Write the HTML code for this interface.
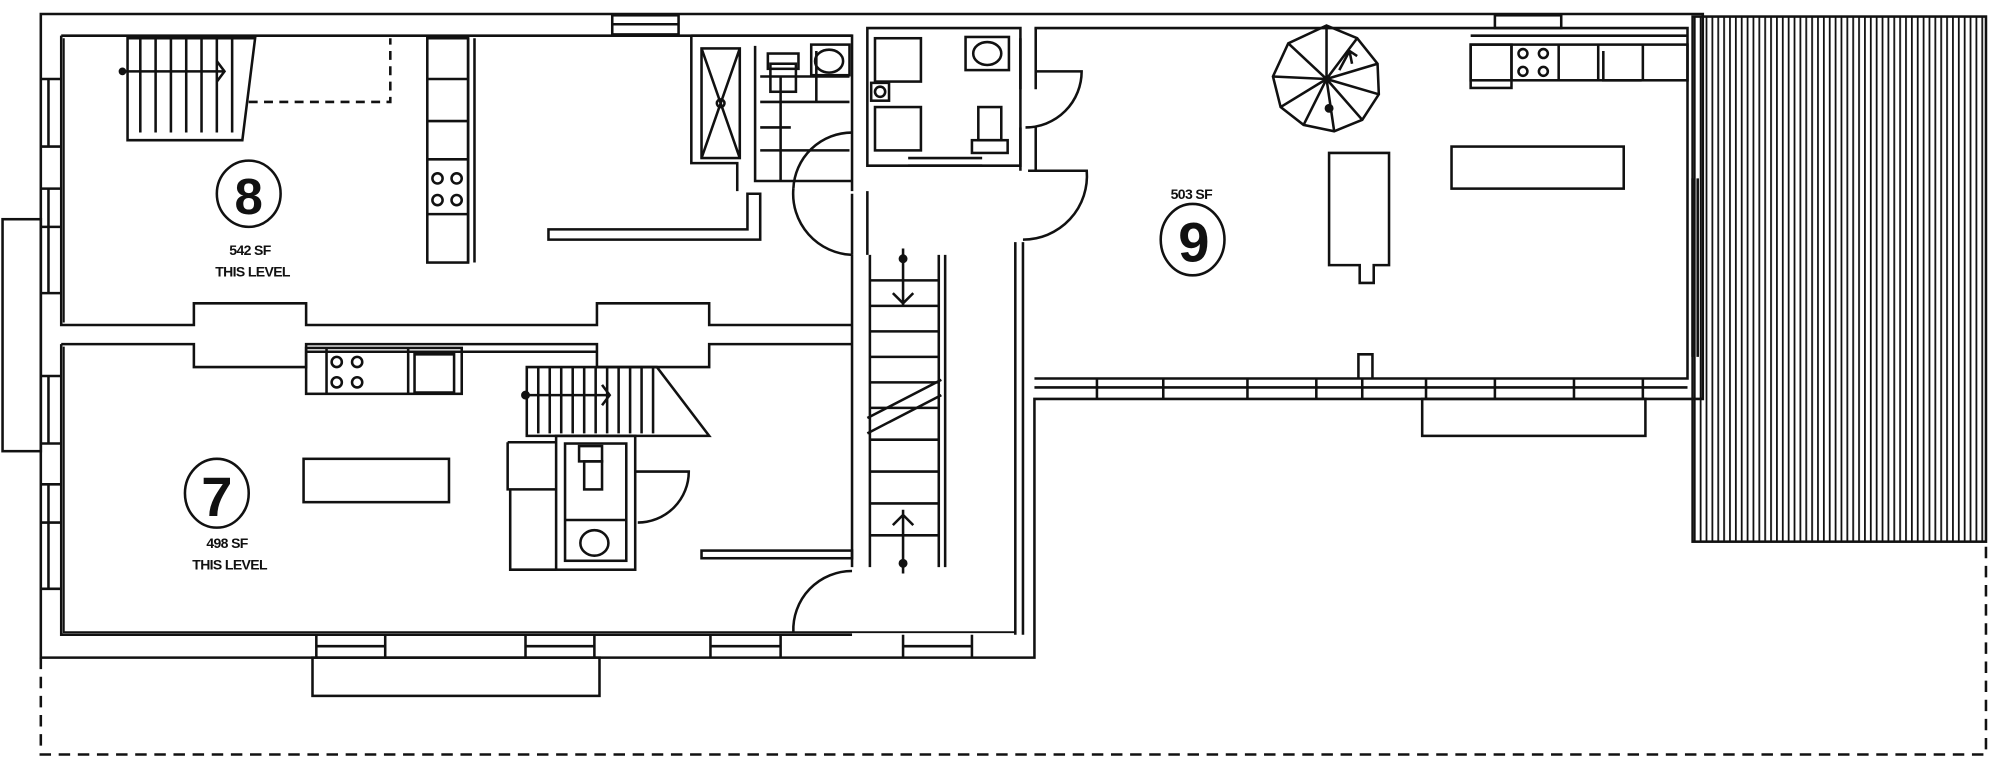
<!DOCTYPE html>
<html><head><meta charset="utf-8"><style>
html,body{margin:0;padding:0;background:#fff;width:2000px;height:780px;overflow:hidden}
svg{display:block}
text{font-family:"Liberation Sans",sans-serif;font-weight:bold;fill:#111}
</style></head><body>
<svg width="2000" height="780" viewBox="0 0 1568 612" preserveAspectRatio="none" xmlns="http://www.w3.org/2000/svg">
<defs>
<pattern id="deck" x="1328" y="0" width="4.6" height="10" patternUnits="userSpaceOnUse">
<rect x="0" y="0" width="1.4" height="10" fill="#111"/>
</pattern>
</defs>
<g fill="none" stroke="#111" stroke-width="2">
<rect x="1327" y="13" width="230" height="412" fill="url(#deck)" stroke-width="2"/>
<path d="M32 516 V592 H1557 V425" stroke-dasharray="9,6"/>
<rect x="2" y="172" width="30" height="182"/>
<path d="M32 11 H1335 V313 H811 V516 H32 Z"/>
<path d="M48 28 H668"/>
<path d="M48 28 V255 H152 V238 H240 V255 H468 V238 H556 V255 H668"/>
<path d="M48 270 H152 V288 H240 V270 H468 V288 H556 V270 H668"/>
<path d="M48 270 V498 H668"/>
<path d="M50 30 V253" stroke-width="1.5"/>
<path d="M50 272 V496 H796" stroke-width="1.5"/>
<path d="M32 62 H48 M32 115 H48 M32 148 H48 M32 178 H48 M32 230 H48 M32 295 H48 M32 348 H48 M32 380 H48 M32 410 H48 M32 462 H48"/>
<path d="M38 62 V115 M38 148 V230 M38 295 V348 M38 380 V462"/>
<rect x="480" y="12" width="52" height="15"/><path d="M480 19 H532"/>
<path d="M248 498 V516 M302 498 V516 M412 498 V516 M466 498 V516 M557 498 V516 M612 498 V516 M708 498 V516 M762 498 V516"/>
<path d="M248 507 H302 M412 507 H466 M557 507 H612 M708 507 H762"/>
<rect x="245" y="516" width="225" height="30"/>
<path d="M100 30 H200 L190 110 H100 Z" />
<path d="M110 30 V104 M122 30 V104 M134 30 V104 M146 30 V104 M158 30 V104 M170 30 V104 M182 30 V104"/>
<path d="M94 56 H176 M170 48 L176 56 L170 64"/>
<circle cx="96" cy="56" r="2" fill="#111"/>
<path d="M195 80 H306 V30" stroke-dasharray="7,5"/>
<rect x="335" y="30" width="32" height="176"/>
<path d="M335 62 H367 M335 95 H367 M335 125 H367 M335 168 H367"/>
<path d="M367 30 V206 M372 30 V206"/>
<circle cx="343" cy="140" r="4"/><circle cx="358" cy="140" r="4"/><circle cx="343" cy="157" r="4"/><circle cx="358" cy="157" r="4"/>
<path d="M430 180 H586 V152 H596 V188 H430 Z"/>
<path d="M542 28 H668 V150 M542 28 V128 H578 V150"/>
<rect x="550" y="38" width="30" height="86"/>
<path d="M550 38 L580 124 M580 38 L550 124"/><circle cx="565" cy="81" r="3"/>
<path d="M592 36 V142 H668"/>
<path d="M596 60 H666 M596 80 H666 M596 100 H620 M596 118 H666 M612 60 V142 M640 40 V80"/>
<rect x="602" y="42" width="24" height="12"/><rect x="604" y="50" width="20" height="22"/>
<ellipse cx="650" cy="48" rx="11" ry="9"/><rect x="636" y="35" width="30" height="24"/>
<path d="M622 148 A 46 46 0 0 1 668 104"/>
<path d="M680 22 H800 V130 H680 Z"/>
<rect x="686" y="30" width="36" height="34"/><rect x="686" y="84" width="36" height="34"/>
<rect x="683" y="65" width="14" height="14"/><circle cx="690" cy="72" r="4"/>
<rect x="757" y="29" width="34" height="26"/><ellipse cx="774" cy="42" rx="11" ry="9"/>
<rect x="767" y="84" width="18" height="26"/><rect x="762" y="110" width="28" height="10"/>
<path d="M712 124 H770 M712 130 H770"/>
<path d="M800 30 V70 M800 100 V134 M812 22 V70 M812 100 V134"/>
<path d="M812 56 H848 A 44 44 0 0 1 804 100"/>
<path d="M668 152 V200 M680 150 V200"/>
<path d="M622 148 A 48 48 0 0 0 668 200"/>
<path d="M806 134 H852 A 50 50 0 0 1 802 188"/>
<path d="M796 190 V498 M802 190 V498"/>
<path d="M668 200 V445 M682 200 V445 M736 200 V445 M741 200 V445"/>
<path d="M682 220 H736 M682 240 H736 M682 260 H736 M682 280 H736 M682 300 H736 M682 320 H736 M682 345 H736 M682 370 H736 M682 395 H736 M682 420 H736"/>
<path d="M680 328 L738 298 M680 340 L738 310"/>
<path d="M708 195 V240 M700 230 L708 238 L716 230 M708 400 V450 M700 412 L708 404 L716 412"/>
<circle cx="708" cy="203" r="2.5" fill="#111"/><circle cx="708" cy="442" r="2.5" fill="#111"/>
<path d="M622 496 A 46 46 0 0 1 668 448"/>
<rect x="550" y="432" width="118" height="6"/>
<rect x="240" y="273" width="122" height="36"/>
<path d="M240 276 H468 M256 273 V309 M320 273 V309 M325 278 V308 H356 V278 Z"/>
<circle cx="264" cy="284" r="4"/><circle cx="280" cy="284" r="4"/><circle cx="264" cy="300" r="4"/><circle cx="280" cy="300" r="4"/>
<rect x="238" y="360" width="114" height="34"/>
<path d="M413 288 H515 L556 342 H413 Z"/>
<path d="M422 288 V340 M431 288 V340 M440 288 V340 M449 288 V340 M458 288 V340 M467 288 V340 M476 288 V340 M485 288 V340 M494 288 V340 M503 288 V340 M512 288 V340"/>
<path d="M410 310 H478 M472 302 L478 310 L472 318"/>
<circle cx="412" cy="310" r="2.5" fill="#111"/>
<rect x="436" y="342" width="62" height="105"/>
<rect x="443" y="348" width="48" height="92"/>
<rect x="454" y="350" width="18" height="12"/><rect x="458" y="362" width="14" height="22"/>
<ellipse cx="466" cy="426" rx="11" ry="10"/><path d="M443 408 H491"/>
<path d="M398 347 H436 M398 347 V384 H436 M400 384 V447 H436"/>
<path d="M498 370 H540 A 40 40 0 0 1 500 410"/>
<path d="M811 22 H1323 V297 H811"/>
<path d="M1327 140 V280 M1331 140 V280"/>
<path d="M811 304 H1323 M1065 297 V278 H1076 V297"/>
<path d="M860 297 V313 M912 297 V313 M978 297 V313 M1032 297 V313 M1118 297 V313 M1172 297 V313 M1234 297 V313 M1288 297 V313 M1068 297 V313"/>
<rect x="1115" y="313" width="175" height="29"/>
<rect x="1172" y="12" width="52" height="10"/>
<rect x="1153" y="35" width="170" height="28"/>
<path d="M1153 28 H1323 M1185 35 V63 M1222 35 V63 M1253 35 V63 M1288 35 V63 M1257 40 V63 H1287"/>
<rect x="1153" y="35" width="32" height="34"/>
<circle cx="1194" cy="42" r="3.5"/><circle cx="1210" cy="42" r="3.5"/><circle cx="1194" cy="56" r="3.5"/><circle cx="1210" cy="56" r="3.5"/>
<polygon points="1040,20 1064,30 1080,50 1081,74 1068,94 1046,103 1022,98 1004,84 998,60 1010,34"/>
<path d="M1040 62 L1040 20 M1040 62 L1064 30 M1040 62 L1080 50 M1040 62 L1081 74 M1040 62 L1068 94 M1040 62 L1046 103 M1040 62 L1022 98 M1040 62 L1004 84 M1040 62 L998 60 M1040 62 L1010 34"/>
<circle cx="1042" cy="85" r="2.5" fill="#111"/><path d="M1050 55 L1058 40 L1064 44 M1058 40 L1060 50"/>
<rect x="1138" y="115" width="135" height="33"/>
<path d="M1042 120 H1089 V208 H1077 V222 H1066 V208 H1042 Z"/>
</g>
<g fill="none" stroke="#111" stroke-width="2">
<ellipse cx="195" cy="152" rx="25" ry="26"/>
<ellipse cx="170" cy="387" rx="25" ry="27"/>
<ellipse cx="935" cy="188" rx="25" ry="28"/>
</g>
<text x="195" y="168" font-size="40" text-anchor="middle" font-weight="normal">8</text>
<text x="170" y="405" font-size="44" text-anchor="middle" font-weight="normal">7</text>
<text x="936" y="205" font-size="44" text-anchor="middle" font-weight="normal">9</text>
<text x="196" y="200" font-size="11" text-anchor="middle" letter-spacing="-0.5">542 SF</text>
<text x="198" y="217" font-size="11" text-anchor="middle" letter-spacing="-0.5">THIS LEVEL</text>
<text x="178" y="430" font-size="11" text-anchor="middle" letter-spacing="-0.5">498 SF</text>
<text x="180" y="447" font-size="11" text-anchor="middle" letter-spacing="-0.5">THIS LEVEL</text>
<text x="934" y="156" font-size="11" text-anchor="middle" letter-spacing="-0.5">503 SF</text>
</svg>
</body></html>
